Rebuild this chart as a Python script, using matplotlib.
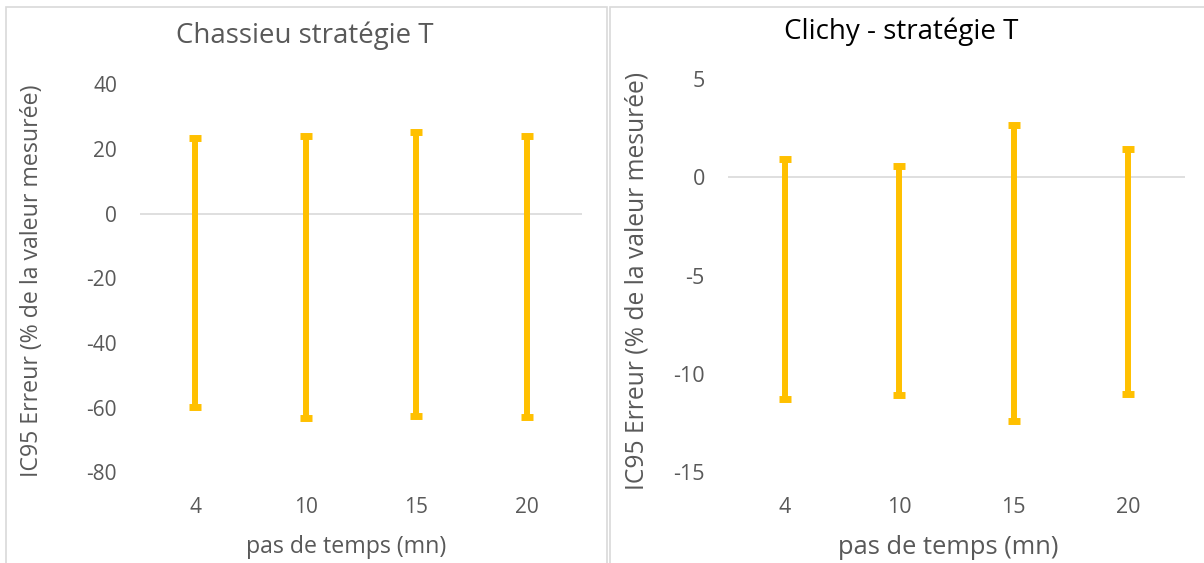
import matplotlib
matplotlib.use("Agg")
import matplotlib.pyplot as plt
from matplotlib.patches import Rectangle

plt.rcParams['font.family'] = ['Open Sans', 'DejaVu Sans']

# pas de temps (mn)
pas = ['4', '10', '15', '20']

# Chassieu : bornes de l'IC95 (% de la valeur mesuree)
chassieu_haut = [23.4, 24.0, 25.2, 23.9]
chassieu_bas = [-59.8, -63.1, -62.5, -62.8]

# Clichy
clichy_haut = [0.95, 0.58, 2.64, 1.42]
clichy_bas = [-11.27, -11.10, -12.40, -11.03]

GRIS = '#595959'
JAUNE = '#FFC000'

W, H = 1204, 563
fig = plt.figure(figsize=(W / 100, H / 100), dpi=100)

# cadres des deux graphiques
fig.patches.append(Rectangle((6 / W, -0.1), 601 / W, 1.1 - 7 / H, transform=fig.transFigure,
                             fill=False, edgecolor='#D9D9D9', lw=1.2))
fig.patches.append(Rectangle((610 / W, -0.1), 0.6, 1.1 - 7 / H, transform=fig.transFigure,
                             fill=False, edgecolor='#D9D9D9', lw=1.2))


def graphe(rect, haut, bas, ylim, yticks, taille):
    ax = fig.add_axes(rect)
    x = list(range(len(pas)))
    mid = [(h + b) / 2 for h, b in zip(haut, bas)]
    demi = [(h - b) / 2 for h, b in zip(haut, bas)]
    ax.axhline(0, color='#D9D9D9', lw=1.2, zorder=1)
    ax.errorbar(x, mid, yerr=demi, fmt='none', ecolor=JAUNE, elinewidth=4.3,
                capsize=4.3, capthick=5, zorder=3)
    ax.set_xlim(-0.5, len(pas) - 0.5)
    ax.set_ylim(ylim)
    ax.set_yticks(yticks)
    ax.set_yticklabels([str(t) for t in yticks])
    ax.set_xticks(x)
    ax.set_xticklabels(pas)
    for s in ax.spines.values():
        s.set_visible(False)
    ax.tick_params(axis='y', length=0, pad=16.5, labelsize=taille, labelcolor=GRIS)
    ax.tick_params(axis='x', length=0, pad=18, labelsize=taille, labelcolor=GRIS)
    return ax


ax1 = graphe([140 / W, 1 - 472.2 / H, 442 / W, 387.8 / H], chassieu_haut, chassieu_bas,
             (-80, 40), [40, 20, 0, -20, -40, -60, -80], 15)
ax2 = graphe([727.7 / W, 1 - 472 / H, 457.3 / W, 393 / H], clichy_haut, clichy_bas,
             (-15, 5), [5, 0, -5, -10, -15], 15.5)

fig.text(305 / W, 1 - 36 / H, 'Chassieu stratégie T', ha='center', va='center',
         fontsize=19.9, color=GRIS)
fig.text(901 / W, 1 - 32 / H, 'Clichy - stratégie T', ha='center', va='center',
         fontsize=20, color='black')

ylab = 'IC95 Erreur (% de la valeur mesurée)'
fig.text(32 / W, 1 - 281 / H, ylab, rotation=90, ha='center', va='center',
         fontsize=16.7, color=GRIS)
fig.text(637 / W, 1 - 281 / H, ylab, rotation=90, ha='center', va='center',
         fontsize=17.7, color=GRIS)

fig.text(346 / W, 1 - 547 / H, 'pas de temps (mn)', ha='center', va='center',
         fontsize=16.7, color=GRIS)
fig.text(948 / W, 1 - 547 / H, 'pas de temps (mn)', ha='center', va='center',
         fontsize=18.4, color=GRIS)

fig.savefig('out.png', dpi=100)
